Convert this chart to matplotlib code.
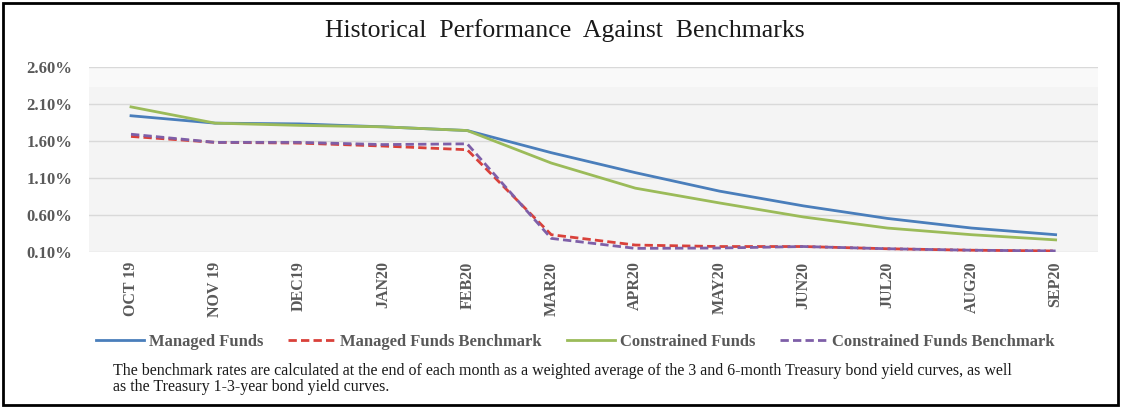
import matplotlib
matplotlib.use("Agg")
import matplotlib.pyplot as plt
from matplotlib.patches import Rectangle

# months on the x axis
months = ['OCT 19', 'NOV 19', 'DEC19', 'JAN20', 'FEB20', 'MAR20',
          'APR20', 'MAY20', 'JUN20', 'JUL20', 'AUG20', 'SEP20']

# rates in percent
managed = [1.94, 1.84, 1.83, 1.79, 1.74, 1.44, 1.17, 0.92, 0.72, 0.55, 0.42, 0.33]
managed_bench = [1.66, 1.58, 1.57, 1.53, 1.48, 0.33, 0.19, 0.17, 0.17, 0.14, 0.12, 0.11]
constrained = [2.06, 1.84, 1.81, 1.79, 1.74, 1.30, 0.96, 0.76, 0.57, 0.42, 0.33, 0.26]
constrained_bench = [1.69, 1.58, 1.58, 1.55, 1.56, 0.28, 0.145, 0.15, 0.17, 0.14, 0.12, 0.11]

yticks = [0.10, 0.60, 1.10, 1.60, 2.10, 2.60]

plt.rcParams['font.family'] = ['Liberation Serif', 'DejaVu Serif']

fig = plt.figure(figsize=(11.22, 4.09), dpi=100)
ax = fig.add_axes([0.0793, 0.3846, 0.899, 0.4516])
ax.set_facecolor('#f4f4f4')
# top strip of the plot area is lighter
ax.axhspan(2.33, 2.6, color='#f9f9f9', zorder=0, linewidth=0)

x = range(len(months))
ax.plot(x, managed, color='#4a7ebb', linewidth=2, label='Managed Funds')
ax.plot(x, managed_bench, color='#d9413a', linewidth=2, linestyle=(0, (3, 1.5)),
        label='Managed Funds Benchmark')
ax.plot(x, constrained, color='#9bbb59', linewidth=2, label='Constrained Funds')
ax.plot(x, constrained_bench, color='#7e5fa8', linewidth=2, linestyle=(0, (3, 1.5)),
        label='Constrained Funds Benchmark')

ax.set_xlim(-0.5, len(months) - 0.5)
ax.set_ylim(0.1, 2.6)
ax.set_yticks(yticks)
ax.set_yticklabels([f'{v:.2f}%' for v in yticks], fontsize=12,
                   fontweight='bold', color='#595959')
ax.set_xticks(list(x))
ax.set_xticklabels(months, rotation=90, fontsize=11.5, fontweight='bold',
                   color='#595959')
ax.tick_params(axis='x', length=0, pad=7)
ax.tick_params(axis='y', length=0, pad=12)
ax.grid(axis='y', color='#d9d9d9', linewidth=1)
ax.set_axisbelow(True)
for s in ax.spines.values():
    s.set_visible(False)

fig.text(0.503, 0.925, 'Historical  Performance  Against  Benchmarks',
         ha='center', va='center', fontsize=18.5, color='#1a1a1a')

fig.legend(loc='center', bbox_to_anchor=(0.513, 0.163), ncol=4, frameon=False,
           handlelength=2.9, columnspacing=1.5, handletextpad=0.25,
           prop={'family': 'Liberation Serif', 'weight': 'bold', 'size': 12},
           labelcolor='#595959')

fig.text(0.101, 0.073,
         'The benchmark rates are calculated at the end of each month as a weighted '
         'average of the 3 and 6-month Treasury bond yield curves, as well\n'
         'as the Treasury 1-3-year bond yield curves.',
         ha='left', va='center', fontsize=11.5, color='#1a1a1a', linespacing=1.0)

# outer frame
fig.patches.append(Rectangle((0.003, 0.01), 0.993, 0.982, transform=fig.transFigure,
                             fill=False, edgecolor='black', linewidth=2))

fig.savefig('out.png', dpi=100)
